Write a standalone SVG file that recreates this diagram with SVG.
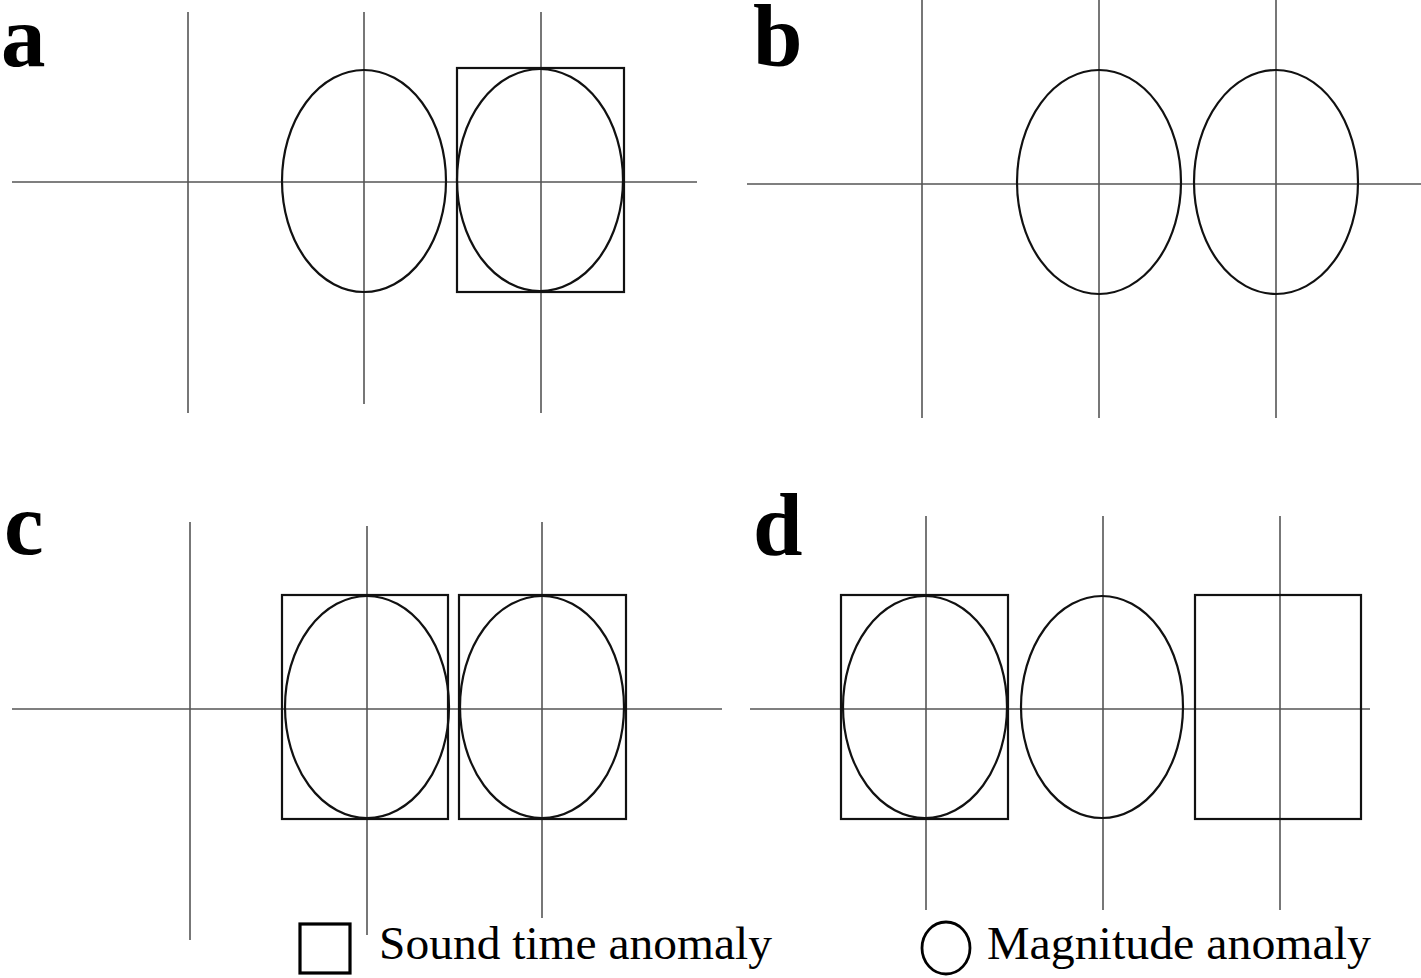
<svg xmlns="http://www.w3.org/2000/svg" width="1421" height="978" viewBox="0 0 1421 978">
<style>
.ax{stroke:#555;stroke-width:1.6;fill:none}
.sh{stroke:#111;stroke-width:2.2;fill:none}
.lbl{font-family:"Liberation Serif","Times New Roman",serif;font-weight:bold;font-size:89px;fill:#000}
.leg{font-family:"Liberation Serif","Times New Roman",serif;font-size:47px;fill:#000}
</style>
<rect width="1421" height="978" fill="#fff"/>
<g id="panel-a">
<text class="lbl" x="1" y="66">a</text>
<g class="axes">
<line class="ax" x1="12" y1="182" x2="697" y2="182"/>
<line class="ax" x1="188" y1="12" x2="188" y2="413"/>
<line class="ax" x1="364" y1="12" x2="364" y2="404"/>
<line class="ax" x1="541" y1="12" x2="541" y2="413"/>
</g>
<ellipse id="a-mag1" class="sh" cx="364" cy="181" rx="82" ry="111"/>
<ellipse id="a-mag2" class="sh" cx="540" cy="180" rx="83" ry="111"/>
<rect id="a-snd2" class="sh" x="457" y="68" width="167" height="224"/>
</g>
<g id="panel-b">
<text class="lbl" x="753" y="66">b</text>
<g class="axes">
<line class="ax" x1="747" y1="184" x2="1421" y2="184"/>
<line class="ax" x1="922" y1="0" x2="922" y2="418"/>
<line class="ax" x1="1099" y1="0" x2="1099" y2="418"/>
<line class="ax" x1="1276" y1="0" x2="1276" y2="418"/>
</g>
<ellipse id="b-mag1" class="sh" cx="1099" cy="182" rx="82" ry="112"/>
<ellipse id="b-mag2" class="sh" cx="1276" cy="182" rx="82" ry="112"/>
</g>
<g id="panel-c">
<text class="lbl" x="4" y="554">c</text>
<g class="axes">
<line class="ax" x1="12" y1="709" x2="722" y2="709"/>
<line class="ax" x1="190" y1="522" x2="190" y2="940"/>
<line class="ax" x1="367" y1="526" x2="367" y2="935"/>
<line class="ax" x1="542" y1="522" x2="542" y2="918"/>
</g>
<rect id="c-snd1" class="sh" x="282" y="595" width="166" height="224"/>
<ellipse id="c-mag1" class="sh" cx="367" cy="707" rx="82" ry="111"/>
<rect id="c-snd2" class="sh" x="459" y="595" width="167" height="224"/>
<ellipse id="c-mag2" class="sh" cx="542" cy="707" rx="82" ry="111"/>
</g>
<g id="panel-d">
<text class="lbl" x="753" y="555">d</text>
<g class="axes">
<line class="ax" x1="750" y1="709" x2="1370" y2="709"/>
<line class="ax" x1="926" y1="516" x2="926" y2="910"/>
<line class="ax" x1="1103" y1="516" x2="1103" y2="910"/>
<line class="ax" x1="1280" y1="516" x2="1280" y2="910"/>
</g>
<rect id="d-snd1" class="sh" x="841" y="595" width="167" height="224"/>
<ellipse id="d-mag1" class="sh" cx="925" cy="707" rx="82" ry="111"/>
<ellipse id="d-mag2" class="sh" cx="1102" cy="707" rx="81" ry="111"/>
<rect id="d-snd3" class="sh" x="1195" y="595" width="166" height="224"/>
</g>
<g id="legend">
<g id="legend-sound">
<rect x="300" y="924" width="50" height="49" fill="none" stroke="#000" stroke-width="3.2"/>
<text class="leg" x="379" y="959" textLength="393" lengthAdjust="spacingAndGlyphs">Sound time anomaly</text>
</g>
<g id="legend-magnitude">
<ellipse cx="946" cy="948" rx="24" ry="26" fill="none" stroke="#000" stroke-width="2.8"/>
<text class="leg" x="987" y="959" textLength="384" lengthAdjust="spacingAndGlyphs">Magnitude anomaly</text>
</g>
</g>
</svg>
